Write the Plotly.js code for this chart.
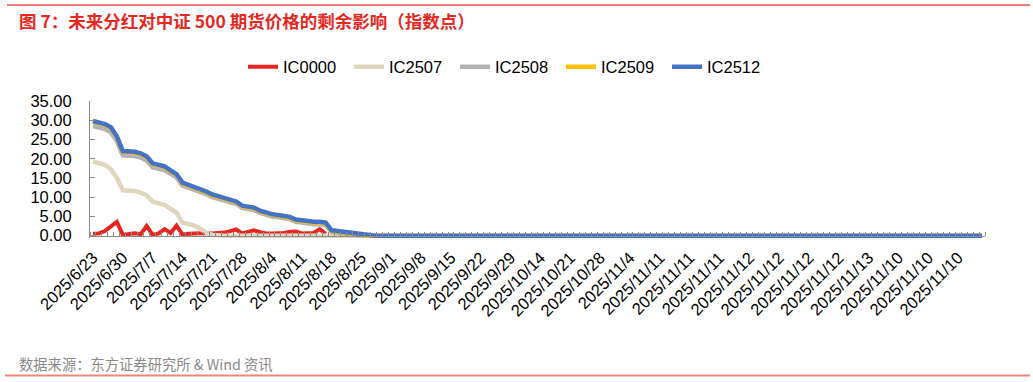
<!DOCTYPE html>
<html>
<head>
<meta charset="utf-8">
<script src="https://cdn.plot.ly/plotly-3.0.1.min.js"></script>
<style>
  html, body { margin: 0; padding: 0; background: #ffffff; }
  #chart { width: 1033px; height: 382px; }
</style>
</head>
<body>
<div id="chart"></div>
<script>
// Tick labels shown every 5 trading days along the category axis
const tickLabels = [
  "2025/6/23", "2025/6/30", "2025/7/7", "2025/7/14", "2025/7/21", "2025/7/28",
  "2025/8/4", "2025/8/11", "2025/8/18", "2025/8/25", "2025/9/1", "2025/9/8",
  "2025/9/15", "2025/9/22", "2025/9/29", "2025/10/14", "2025/10/21", "2025/10/28",
  "2025/11/4", "2025/11/11", "2025/11/11", "2025/11/11", "2025/11/12", "2025/11/12",
  "2025/11/12", "2025/11/12", "2025/11/13", "2025/11/10", "2025/11/10", "2025/11/10"
];
const seriesNames = ["IC0000", "IC2507", "IC2508", "IC2509", "IC2512"];

// Values (index points), one per trading-day category
const ic0000 = [
  0.5, 0.6, 1.2, 2.4, 3.6, 0.2, 0.4, 0.6, 0.4, 2.5,
  0.2, 0.6, 1.7, 0.7, 2.6, 0.3, 0.5, 0.6, 0.6, 0.7,
  0.6, 0.6, 0.8, 1.2, 1.6, 0.6, 1.0, 1.4, 0.9, 0.6,
  0.6, 0.6, 0.7, 1.0, 1.1, 0.6, 0.6, 0.7, 1.7, 0.5
];
const ic2507 = [
  19.3, 18.9, 18.4, 17.3, 15.0, 11.8, 11.7, 11.6, 11.2, 10.5,
  8.8, 8.4, 8.0, 7.0, 6.0, 3.4, 3.0, 2.6, 1.8, 0.8,
  0.2, 0, 0, 0, 0, 0, 0, 0, 0, 0,
  0, 0, 0, 0, 0, 0, 0, 0, 0, 0,
  0, 0, 0, 0, 0, 0, 0, 0
];
const ic2508 = [
  28.5, 28.1, 27.7, 26.9, 24.6, 20.9, 20.8, 20.7, 20.3, 19.5,
  17.8, 17.5, 17.0, 16.1, 15.1, 13.0, 12.5, 12.0, 11.4, 10.8,
  10.0, 9.6, 9.3, 8.9, 8.3, 7.2, 7.0, 6.7, 5.9, 5.3,
  5.0, 4.8, 4.6, 4.3, 3.6, 3.3, 3.1, 3.0, 3.0, 2.8,
  0.9, 0.7, 0.5, 0.4, 0.2, 0, 0, 0
];
const ic2509 = [
  29.6, 29.2, 28.8, 28.0, 25.6, 21.8, 21.7, 21.6, 21.2, 20.4,
  18.6, 18.3, 17.8, 16.8, 15.8, 13.6, 13.1, 12.6, 12.0, 11.3,
  10.5, 10.1, 9.8, 9.4, 8.7, 7.6, 7.4, 7.1, 6.3, 5.7,
  5.4, 5.2, 5.0, 4.7, 4.0, 3.7, 3.5, 3.4, 3.4, 3.2,
  1.2, 1.0, 0.8, 0.7, 0.5, 0.1, 0, 0, 0, 0,
  0, 0, 0, 0, 0, 0, 0, 0, 0, 0,
  0, 0, 0, 0, 0, 0, 0, 0, 0, 0,
  0, 0, 0, 0, 0, 0, 0, 0, 0, 0,
  0, 0, 0, 0, 0, 0, 0, 0, 0, 0,
  0, 0, 0, 0, 0, 0, 0, 0, 0, 0,
  0, 0, 0, 0, 0, 0, 0, 0, 0, 0,
  0, 0, 0, 0, 0, 0, 0, 0, 0, 0,
  0, 0, 0, 0, 0, 0, 0, 0, 0, 0,
  0, 0, 0, 0, 0, 0, 0, 0.25, 0.25, 0.25,
  0.25, 0.25, 0.25, 0.25, 0.25, 0.25, 0.25, 0.25, 0.25, 0
];
const ic2512 = [
  29.8, 29.4, 29.0, 28.2, 25.8, 22.0, 21.9, 21.8, 21.4, 20.6,
  18.8, 18.5, 18.0, 17.0, 16.0, 13.8, 13.3, 12.8, 12.2, 11.5,
  10.7, 10.3, 10.0, 9.6, 8.9, 7.8, 7.6, 7.3, 6.5, 5.9,
  5.6, 5.4, 5.2, 4.9, 4.2, 3.9, 3.7, 3.6, 3.6, 3.4,
  1.4, 1.2, 1.0, 0.9, 0.7, 0.3, 0.1, 0.05, 0, 0,
  0, 0, 0, 0, 0, 0, 0, 0, 0, 0,
  0, 0, 0, 0, 0, 0, 0, 0, 0, 0,
  0, 0, 0, 0, 0, 0, 0, 0, 0, 0,
  0, 0, 0, 0, 0, 0, 0, 0, 0, 0,
  0, 0, 0, 0, 0, 0, 0, 0, 0, 0,
  0, 0, 0, 0, 0, 0, 0, 0, 0, 0,
  0, 0, 0, 0, 0, 0, 0, 0, 0, 0,
  0, 0, 0, 0, 0, 0, 0, 0, 0, 0,
  0, 0, 0, 0, 0, 0, 0, 0, 0, 0,
  0, 0, 0, 0, 0, 0, 0, 0, 0, 0
];

const nCats = ic2512.length;           // number of categories on the x axis
const labelEvery = 5;
const idx = arr => arr.map((_, i) => i);
const tickVals = tickLabels.map((_, k) => k * labelEvery);
const minorVals = [];
for (let k = 0; k <= nCats; k++) minorVals.push(k - 0.5);

const colors = ["#e8261f", "#e0d6be", "#b3b3b3", "#ffc000", "#4472c4"];
const widths = [4, 4.5, 4.5, 4.5, 4.5];
const allSeries = [ic0000, ic2507, ic2508, ic2509, ic2512];

const traces = allSeries.map((s, k) => ({
  type: "scatter",
  mode: "lines",
  name: seriesNames[k],
  x: idx(s),
  y: s,
  line: { color: colors[k], width: widths[k], shape: "linear" },
  hoverinfo: "skip"
}));

// pixel -> paper helpers (plot area: x 90..985, y 101..238)
const L = 90, R = 985, T = 101, B = 238;
const px = p => (p - L) / (R - L);
const py = p => (B - p) / (B - T);

const axisGray = "#8c8c8c";
const yMin = -0.6, yMax = 35;

const layout = {
  width: 1033,
  height: 382,
  margin: { l: L, r: 1033 - R, t: T, b: 382 - B, pad: 0 },
  paper_bgcolor: "#ffffff",
  plot_bgcolor: "#ffffff",
  font: { family: "Liberation Sans, Arial, sans-serif", size: 16.5, color: "#000000" },
  showlegend: true,
  legend: {
    orientation: "h",
    x: px(243), xanchor: "left",
    y: py(67), yanchor: "middle",
    font: { family: "Liberation Sans, Arial, sans-serif", size: 16.5, color: "#000000" },
    bgcolor: "rgba(0,0,0,0)",
    entrywidth: 61,
    entrywidthmode: "pixels",
    traceorder: "normal"
  },
  xaxis: {
    range: [-0.5, nCats - 0.5],
    tickmode: "array",
    tickvals: tickVals,
    ticktext: tickLabels,
    tickangle: -45,
    ticks: "",
    ticklabelstandoff: 5,
    showline: true,
    linecolor: axisGray,
    linewidth: 1,
    showgrid: false,
    zeroline: false,
    anchor: "free",
    position: (0 - yMin) / (yMax - yMin),
    tickfont: { family: "Liberation Sans, Arial, sans-serif", size: 16.5, color: "#000000" },
    minor: {
      tickmode: "array",
      tickvals: minorVals,
      ticks: "inside",
      ticklen: 4,
      tickcolor: axisGray,
      tickwidth: 1,
      showgrid: false
    },
    fixedrange: true
  },
  yaxis: {
    range: [yMin, yMax],
    tickmode: "array",
    tickvals: [0, 5, 10, 15, 20, 25, 30, 35],
    tickformat: ".2f",
    ticks: "inside",
    ticklen: 5,
    tickcolor: axisGray,
    tickwidth: 1,
    ticklabelstandoff: 14,
    showline: true,
    linecolor: axisGray,
    linewidth: 1,
    showgrid: false,
    zeroline: false,
    tickfont: { family: "Liberation Sans, Arial, sans-serif", size: 16.5, color: "#000000" },
    fixedrange: true
  },
  shapes: [
    { type: "line", xref: "paper", yref: "paper", x0: px(7), x1: px(1030), y0: py(5), y1: py(5),
      line: { color: "#ef7b72", width: 2 } },
    { type: "line", xref: "paper", yref: "paper", x0: px(5), x1: px(1030), y0: py(375.5), y1: py(375.5),
      line: { color: "#ec857d", width: 2 } }
  ],
  annotations: [
    { xref: "paper", yref: "paper", x: px(17), y: py(20.5), xanchor: "left", yanchor: "middle",
      showarrow: false,
      text: "<b>图 7：未来分红对中证 500 期货价格的剩余影响（指数点）</b>",
      font: { family: "Noto Sans CJK SC, sans-serif", size: 17.5, color: "#e5291f" } },
    { xref: "paper", yref: "paper", x: px(17), y: py(363), xanchor: "left", yanchor: "middle",
      showarrow: false,
      text: "数据来源：东方证券研究所 & Wind 资讯",
      font: { family: "Noto Sans CJK SC, sans-serif", size: 14.3, color: "#8a8a8a" } }
  ]
};

Plotly.newPlot("chart", traces, layout, { staticPlot: true, displayModeBar: false });
</script>
</body>
</html>
